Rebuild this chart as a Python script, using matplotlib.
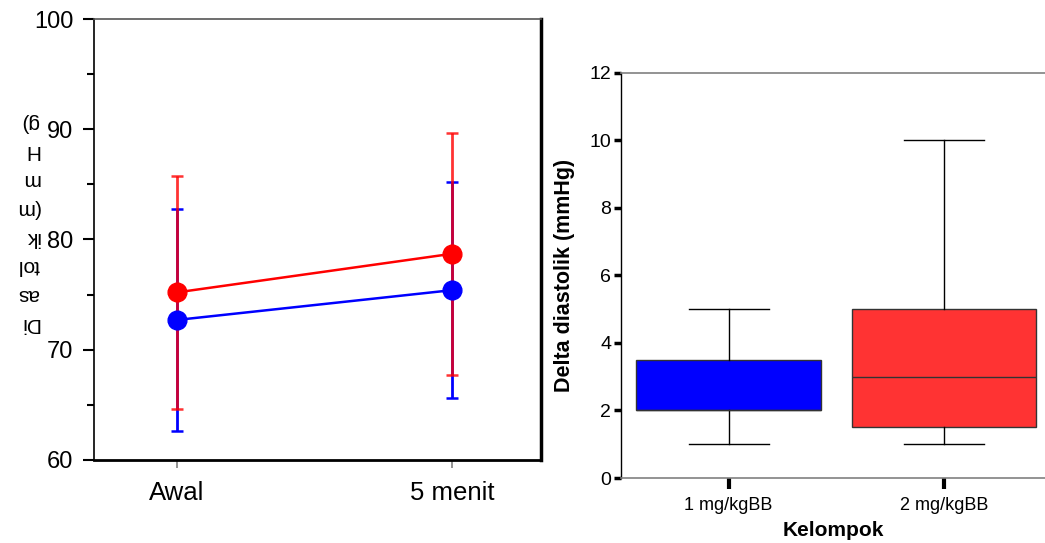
import matplotlib
matplotlib.use("Agg")
import matplotlib.pyplot as plt
from matplotlib.ticker import MultipleLocator

# left panel: mean +/- SD diastolic pressure
waktu = ["Awal", "5 menit"]
mean_1mg = [72.7, 75.4]
sd_1mg = [10.1, 9.8]
mean_2mg = [75.2, 78.7]
sd_2mg = [10.6, 11.0]

# right panel: delta diastolic box plot
kelompok = ["1 mg/kgBB", "2 mg/kgBB"]
q_min = [1, 1]
q1 = [2, 1.5]
med = [2, 3]
q3 = [3.5, 5]
q_max = [5, 10]

plt.rcParams['font.family'] = ['Liberation Sans', 'DejaVu Sans']

fig = plt.figure(figsize=(10.45, 5.43), dpi=100)

# ---- left
ax1 = fig.add_axes([0.090, 0.153, 0.4277, 0.812])
x = [0, 1]
ax1.errorbar(x, mean_1mg, yerr=sd_1mg, fmt='none', ecolor='blue', elinewidth=2, capsize=4, capthick=1.8, zorder=2)
ax1.errorbar(x, mean_2mg, yerr=sd_2mg, fmt='none', ecolor='red', elinewidth=2, capsize=4, capthick=1.8, alpha=0.8, zorder=3)
ax1.plot(x, mean_1mg, color='blue', lw=1.8, marker='o', ms=13.5, zorder=4)
ax1.plot(x, mean_2mg, color='red', lw=1.8, marker='o', ms=13.5, zorder=5)
ax1.set_xlim(-0.302, 1.324)
ax1.set_ylim(60, 100)
ax1.set_xticks(x)
ax1.set_xticklabels(waktu, fontsize=18.5)
ax1.yaxis.set_major_locator(MultipleLocator(10))
ax1.yaxis.set_minor_locator(MultipleLocator(5))
ax1.tick_params(axis='y', which='major', length=8, width=1.5, labelsize=17, pad=7, color='black')
ax1.tick_params(axis='y', which='minor', length=5, width=1.5)
ax1.tick_params(axis='x', length=6, width=1.2, color='gray', pad=9)
ax1.spines['left'].set_linewidth(1.2)
ax1.spines['bottom'].set_linewidth(2)
ax1.spines['right'].set_linewidth(2.5)
ax1.spines['top'].set_linewidth(1.2)
ax1.spines['top'].set_color('#555555')
fig.text(0.026, 0.59, "Di\nas\ntol\nik\n(m\nm\nH\ng)", rotation=180, fontsize=15,
         ha='center', va='center', multialignment='left', linespacing=1.65)

# ---- right
ax2 = fig.add_axes([0.594, 0.1197, 0.406, 0.7459])
stats = []
for i in range(len(kelompok)):
    stats.append(dict(whislo=q_min[i], q1=q1[i], med=med[i], q3=q3[i], whishi=q_max[i], label=kelompok[i]))
bp = ax2.bxp(stats, positions=[1, 2], widths=0.856, showfliers=False, patch_artist=True,
             capwidths=0.372,
             boxprops=dict(linewidth=1, edgecolor='#333333'),
             medianprops=dict(color='#333333', linewidth=1),
             whiskerprops=dict(color='black', linewidth=1),
             capprops=dict(color='black', linewidth=1))
for patch, c in zip(bp['boxes'], ['#0000ff', '#ff3333']):
    patch.set_facecolor(c)
ax2.set_xlim(0.499, 2.47)
ax2.set_ylim(0, 12)
ax2.set_yticks(range(0, 13, 2))
ax2.tick_params(axis='y', length=5, width=2.5, labelsize=14, pad=2)
ax2.tick_params(axis='x', length=8, width=3, labelsize=13, pad=6)
ax2.spines['right'].set_visible(False)
ax2.spines['top'].set_color('gray')
ax2.spines['bottom'].set_color('gray')
ax2.spines['top'].set_linewidth(1.2)
ax2.spines['bottom'].set_linewidth(1.2)
ax2.spines['left'].set_linewidth(1)
ax2.set_ylabel("Delta diastolik (mmHg)", fontsize=15.5, fontweight='bold', labelpad=10)
ax2.set_xlabel("Kelompok", fontsize=15, fontweight='bold', labelpad=5)

fig.savefig("out.png", dpi=100)
